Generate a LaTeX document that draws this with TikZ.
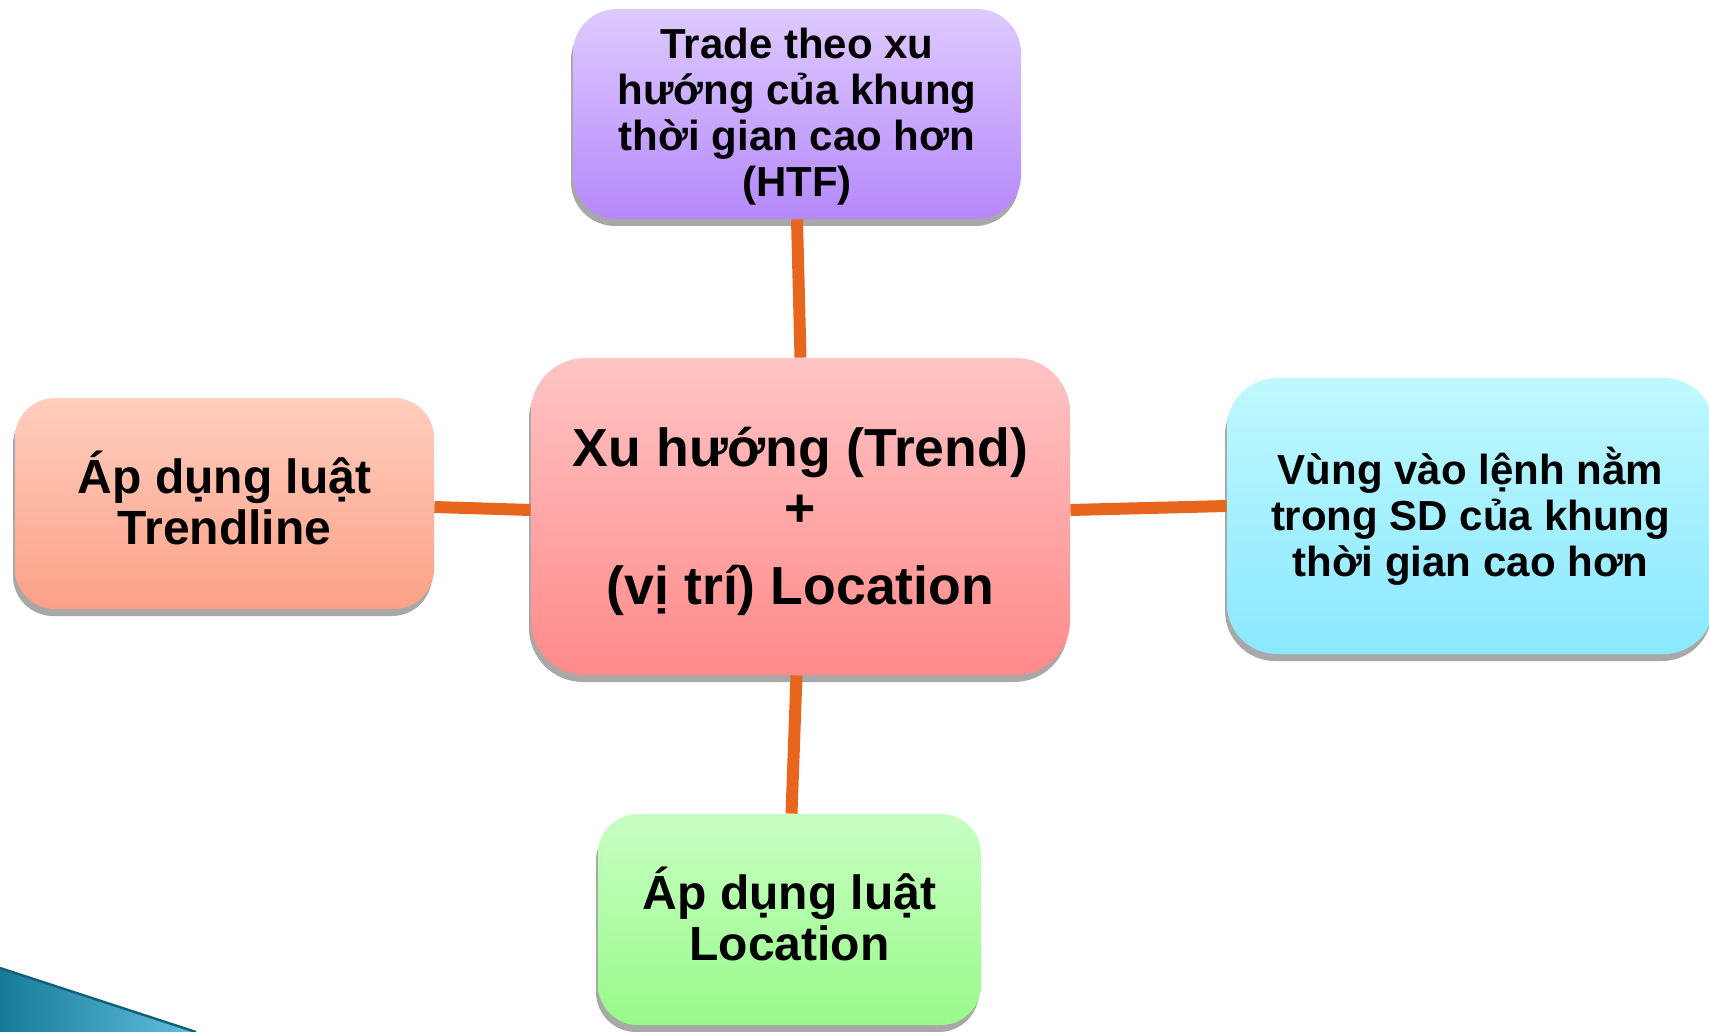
\documentclass[tikz,border=0pt]{standalone}
\usepackage{fontspec}
\setmainfont{Liberation Sans}
\usetikzlibrary{shadows,calc}

\definecolor{htftop}{RGB}{222,202,255}
\definecolor{htfbot}{RGB}{181,136,250}
\definecolor{trendtop}{RGB}{255,196,196}
\definecolor{trendbot}{RGB}{255,138,138}
\definecolor{ruletop}{RGB}{255,206,190}
\definecolor{rulebot}{RGB}{252,160,135}
\definecolor{sdtop}{RGB}{192,248,255}
\definecolor{sdbot}{RGB}{138,232,255}
\definecolor{loctop}{RGB}{200,255,195}
\definecolor{locbot}{RGB}{152,250,138}
\definecolor{linkcol}{RGB}{232,101,30}
\definecolor{shadowgray}{RGB}{168,168,168}
\definecolor{tealdark}{RGB}{22,122,152}
\definecolor{teallight}{RGB}{98,192,222}
\definecolor{tealedge}{RGB}{18,96,120}

\begin{document}
\begin{tikzpicture}[x=0.5pt,y=0.5pt,yscale=-1,xscale=1,
    box/.style={rectangle, inner sep=0pt, align=center, text=black,
      drop shadow={shadow xshift=-1pt, shadow yshift=-3.5pt, fill=shadowgray, opacity=1}},
    link/.style={draw=linkcol, line width=6pt}]
        %set diagram left start at 0, and has height of 1032
        \useasboundingbox (0,0) rectangle (1709,1032);

        %Shape: corner band
        \fill [left color=tealdark, right color=teallight] (0,968) -- (196,1032) -- (0,1032) -- cycle ;
        \draw [tealedge, line width=1.2pt] (0,968) -- (196,1032) ;

        % Centre node
        \node [box, rounded corners=27pt, top color=trendtop, bottom color=trendbot,
          minimum width=269.5pt, minimum height=158.5pt,
          font=\bfseries\fontsize{26.8}{26.8}\selectfont] (trend) at (800.5,516.5)
          {\rule{0pt}{24.5pt}Xu hướng (Trend)\\[3.1pt]+\\[12.4pt](vị trí) Location};
        % Top node
        \node [box, rounded corners=22pt, top color=htftop, bottom color=htfbot,
          minimum width=224pt, minimum height=105pt,
          font=\bfseries\fontsize{21}{23}\selectfont] (htf) at (797,114)
          {\rule{0pt}{17.5pt}Trade theo xu\\hướng của khung\\thời gian cao hơn\\(HTF)};
        % Left node
        \node [box, rounded corners=20pt, top color=ruletop, bottom color=rulebot,
          minimum width=209.5pt, minimum height=105.5pt,
          font=\bfseries\fontsize{24}{25.5}\selectfont] (trendline) at (224.5,503.5)
          {Áp dụng luật\\Trendline\rule[-5.4pt]{0pt}{5.4pt}};
        % Right node
        \node [box, rounded corners=25pt, top color=sdtop, bottom color=sdbot,
          minimum width=243.5pt, minimum height=138pt,
          font=\bfseries\fontsize{21}{23}\selectfont] (sd) at (1470.5,516)
          {Vùng vào lệnh nằm\\trong SD của khung\\thời gian cao hơn};
        % Bottom node
        \node [box, rounded corners=20pt, top color=loctop, bottom color=locbot,
          minimum width=191.5pt, minimum height=105.5pt,
          font=\bfseries\fontsize{24}{25.5}\selectfont] (location) at (789.5,919.5)
          {Áp dụng luật\\Location\rule[-5.4pt]{0pt}{5.4pt}};

        %Straight Lines
        \draw [link] (htf.south) -- (trend.north) ;
        \draw [link] ($(trend.south)+(-4,0)$) -- ($(location.north)+(2,0)$) ;
        \draw [link] ($(trendline.east)+(0,3.5)$) -- ($(trend.west)+(0,-6.5)$) ;
        \draw [link] ($(trend.east)+(0,-6.5)$) -- ($(sd.west)+(0,-10)$) ;

\end{tikzpicture}
\end{document}
